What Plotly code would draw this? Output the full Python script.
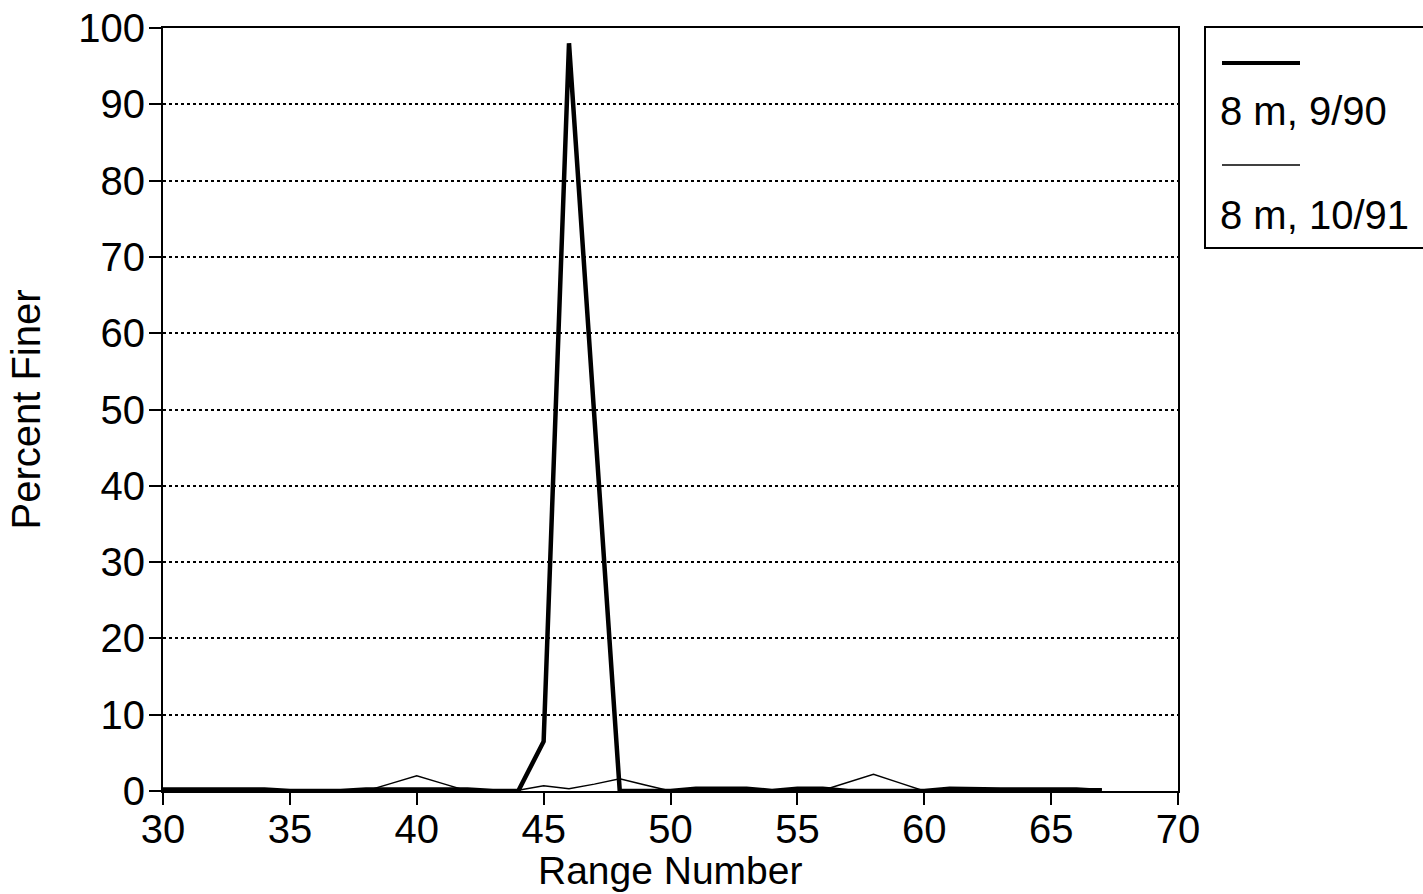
import plotly.graph_objects as go

range_number = list(range(30, 68))
pf_9_90 = [0.2, 0.2, 0.2, 0.2, 0.2, 0.0, 0.0, 0.0, 0.2, 0.2,
           0.2, 0.2, 0.2, 0.0, 0.0, 6.5, 98.0, 49.0, 0.0, 0.0,
           0.0, 0.3, 0.3, 0.3, 0.0, 0.3, 0.3, 0.0, 0.0, 0.0,
           0.0, 0.3, 0.2, 0.2, 0.2, 0.2, 0.2, 0.0]
pf_10_91 = [0.0, 0.0, 0.0, 0.0, 0.0, 0.0, 0.0, 0.0, 0.0, 1.0,
            2.0, 1.0, 0.0, 0.0, 0.1, 0.7, 0.3, 0.9, 1.6, 0.8,
            0.0, 0.0, 0.0, 0.0, 0.0, 0.0, 0.1, 1.1, 2.2, 1.1,
            0.0, 0.3, 0.3, 0.3, 0.3, 0.3, 0.3, 0.3]
series_names = ["8 m, 9/90", "8 m, 10/91"]
x_title = "Range Number"
y_title = "Percent Finer"
x_ticks = [30, 35, 40, 45, 50, 55, 60, 65, 70]
y_ticks = [0, 10, 20, 30, 40, 50, 60, 70, 80, 90, 100]

FONT = "Liberation Sans, Arial, sans-serif"
FS = 40

fig = go.Figure()
fig.add_trace(go.Scatter(x=range_number, y=pf_9_90, mode="lines", name=series_names[0],
                         line=dict(color="black", width=4.5), showlegend=False))
fig.add_trace(go.Scatter(x=range_number, y=pf_10_91, mode="lines", name=series_names[1],
                         line=dict(color="black", width=1.5), showlegend=False))

fig.update_layout(
    width=1423, height=894,
    margin=dict(l=163, r=245, t=28, b=103, autoexpand=False),
    paper_bgcolor="white", plot_bgcolor="white",
    font=dict(family=FONT, size=FS, color="black"),
)
fig.update_xaxes(
    range=[30, 70], tickvals=x_ticks, ticktext=[str(v) for v in x_ticks],
    showline=True, linecolor="black", linewidth=2, mirror=True,
    ticks="outside", ticklen=12, tickwidth=2, tickcolor="black",
    showgrid=False, zeroline=False, automargin=False,
    tickfont=dict(size=FS), ticklabelstandoff=-10,
)
fig.update_yaxes(
    range=[0, 100], tickvals=y_ticks, ticktext=[str(v) for v in y_ticks],
    showline=True, linecolor="black", linewidth=2, mirror=True,
    ticks="outside", ticklen=12, tickwidth=2, tickcolor="black",
    showgrid=True, gridcolor="black", gridwidth=1.5, griddash="dot",
    zeroline=False, automargin=False,
    title=dict(text=y_title, font=dict(size=FS), standoff=25),
    tickfont=dict(size=FS), ticklabelstandoff=-4,
)

# custom legend (line sample above each label)
px_w, px_h = 1015.0, 763.0
def xp(px):
    return (px - 163) / px_w
def yp(py):
    return (791 - py) / px_h

shapes = [
    dict(type="rect", xref="paper", yref="paper", x0=xp(1205), x1=xp(1440), y0=yp(248), y1=yp(27),
         line=dict(color="black", width=2), fillcolor="white"),
    dict(type="line", xref="paper", yref="paper", x0=xp(1222), x1=xp(1300), y0=yp(63), y1=yp(63),
         line=dict(color="black", width=4)),
    dict(type="line", xref="paper", yref="paper", x0=xp(1222), x1=xp(1300), y0=yp(165), y1=yp(165),
         line=dict(color="black", width=1.5)),
]
annotations = [
    dict(text=series_names[0], xref="paper", yref="paper", x=xp(1218), y=yp(111),
         xanchor="left", yanchor="middle", showarrow=False, font=dict(size=FS)),
    dict(text=series_names[1], xref="paper", yref="paper", x=xp(1218), y=yp(215),
         xanchor="left", yanchor="middle", showarrow=False, font=dict(size=FS)),
    dict(text=x_title, xref="paper", yref="paper", x=xp(670), y=yp(870),
         xanchor="center", yanchor="middle", showarrow=False, font=dict(size=39)),
]
fig.update_layout(shapes=shapes, annotations=annotations)

fig.write_html("out.html")
